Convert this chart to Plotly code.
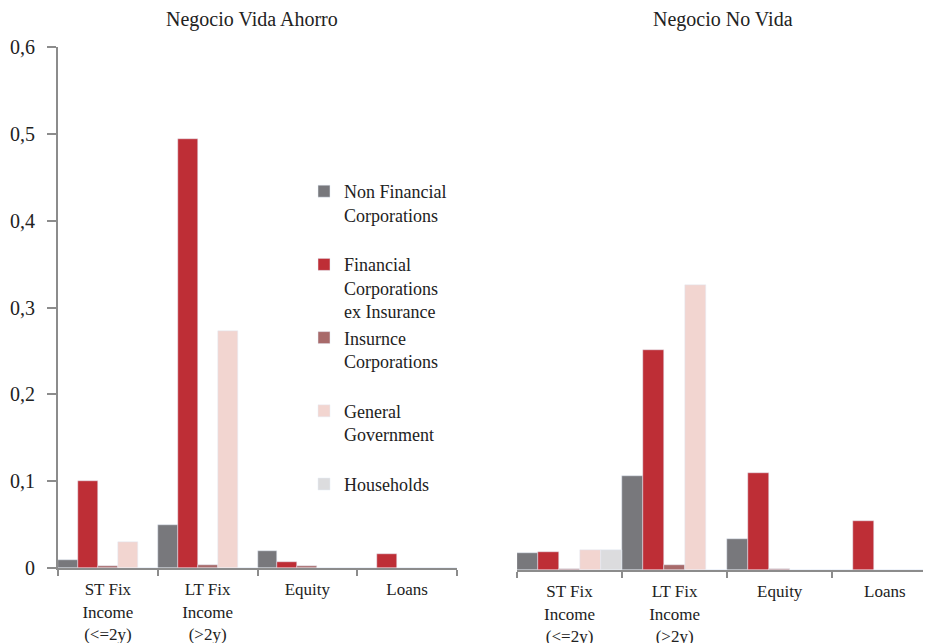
import plotly.graph_objects as go

categories = ["ST Fix<br>Income<br>(&lt;=2y)", "LT Fix<br>Income<br>(&gt;2y)", "Equity", "Loans"]
series_names = [
    "Non Financial<br>Corporations<br> ",
    "Financial<br>Corporations<br>ex Insurance",
    "Insurnce<br>Corporations<br> ",
    "General<br>Government<br> ",
    "Households",
]
series_colors = ["#78787c", "#be2e36", "#a86a6a", "#f2d5d0", "#dcdcde"]

# Negocio Vida Ahorro
vida_nfc = [0.009, 0.050, 0.020, 0.0]
vida_fc = [0.100, 0.494, 0.007, 0.016]
vida_ic = [0.002, 0.004, 0.002, 0.0]
vida_gg = [0.030, 0.273, 0.0, 0.0]
vida_hh = [0.0, 0.0, 0.0, 0.0]

# Negocio No Vida
novida_nfc = [0.020, 0.108, 0.036, 0.0]
novida_fc = [0.021, 0.253, 0.112, 0.056]
novida_ic = [0.001, 0.006, 0.001, 0.0]
novida_gg = [0.023, 0.328, 0.0, 0.0]
novida_hh = [0.023, 0.0, 0.0, 0.0]

titles = ["Negocio Vida Ahorro", "Negocio No Vida"]
y_ticks = [0, 0.1, 0.2, 0.3, 0.4, 0.5, 0.6]

vida = [vida_nfc, vida_fc, vida_ic, vida_gg, vida_hh]
novida = [novida_nfc, novida_fc, novida_ic, novida_gg, novida_hh]

FONT = "Liberation Serif"
TXT = "#222222"
OFF = 8  # page body margin
W, H = 931 - OFF, 643 - OFF

fig = go.Figure()
for i, (name, col) in enumerate(zip(series_names, series_colors)):
    fig.add_trace(go.Bar(x=categories, y=vida[i], name=name, marker_color=col,
                         legendgroup=f"g{i}", xaxis="x", yaxis="y", showlegend=True))
    fig.add_trace(go.Bar(x=categories, y=novida[i], name=name, marker_color=col,
                         legendgroup=f"g{i}", xaxis="x2", yaxis="y2", showlegend=False))

# geometry in screen pixels, converted to figure pixels
def X(px):
    return (px - OFF) / W

top_f, bot_f = 47 - OFF, 570 - OFF
ph = bot_f - top_f
def Y(px):
    return (bot_f - (px - OFF)) / ph

axis_col = "#8c8c8c"
common_x = dict(type="category", showline=True, linecolor=axis_col, linewidth=2,
                ticks="outside", tickson="boundaries", ticklen=6, tickcolor=axis_col,
                tickwidth=2, showgrid=False, zeroline=False, ticklabelstandoff=5,
                tickfont=dict(family=FONT, size=17, color=TXT), automargin=False)

fig.update_layout(
    width=W, height=H,
    margin=dict(l=0, r=0, t=top_f, b=H - bot_f),
    paper_bgcolor="white", plot_bgcolor="white",
    separators=",.",
    barmode="group", bargap=0, bargroupgap=0,
    font=dict(family=FONT, size=18, color=TXT),
    xaxis=dict(domain=[X(58), X(457)], range=[-0.5, 3.5], anchor="y", **common_x),
    xaxis2=dict(domain=[X(517), 1.0], range=[-0.5, 3.44], anchor="y2", **common_x),
    yaxis=dict(domain=[Y(568), 1.0], range=[0, 0.6], tickvals=y_ticks,
               showline=True, linecolor=axis_col, linewidth=2, ticks="outside",
               ticklen=9, tickcolor=axis_col, tickwidth=2, showgrid=False,
               zeroline=False, anchor="x", automargin=False, ticklabelstandoff=8,
               tickfont=dict(family=FONT, size=20, color=TXT)),
    yaxis2=dict(domain=[0, Y(49)], range=[0, 0.6], visible=False, anchor="x2",
                showgrid=False, zeroline=False),
    legend=dict(x=X(304), xanchor="left", y=Y(173), yanchor="top",
                valign="top", bgcolor="rgba(0,0,0,0)", tracegroupgap=0,
                font=dict(family=FONT, size=18, color=TXT)),
    showlegend=True,
)

fig.add_annotation(text=titles[0], x=X(252), y=Y(19), xref="paper", yref="paper",
                   xanchor="center", yanchor="middle", showarrow=False,
                   font=dict(family=FONT, size=20, color=TXT))
fig.add_annotation(text=titles[1], x=X(723), y=Y(19), xref="paper", yref="paper",
                   xanchor="center", yanchor="middle", showarrow=False,
                   font=dict(family=FONT, size=20, color=TXT))

fig.write_html("out.html")
